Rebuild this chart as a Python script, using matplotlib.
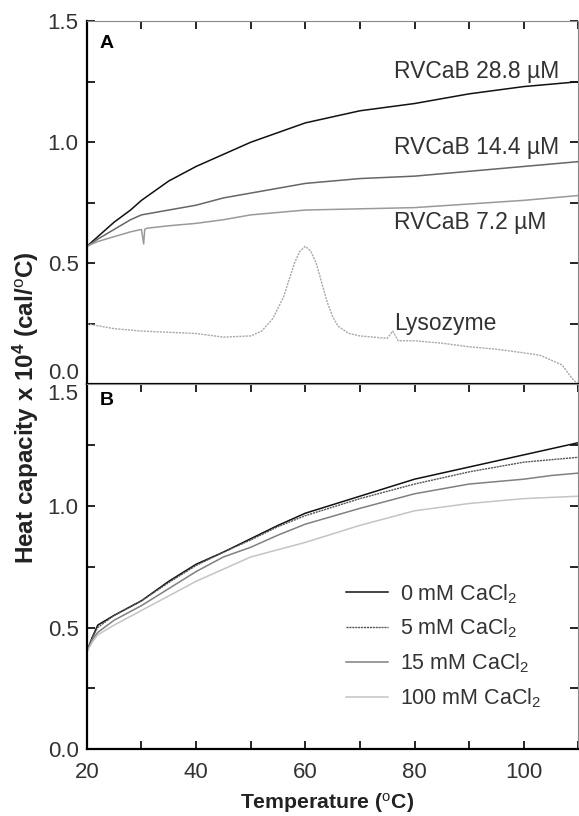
import matplotlib.pyplot as plt
import numpy as np
from matplotlib.ticker import MultipleLocator, FuncFormatter

plt.rcParams['font.family'] = ['Liberation Sans', 'DejaVu Sans']
plt.rcParams['mathtext.fontset'] = 'custom'
plt.rcParams['mathtext.rm'] = 'Liberation Sans'
plt.rcParams['mathtext.it'] = 'Liberation Sans:italic'
plt.rcParams['mathtext.bf'] = 'Liberation Sans:bold'

# Panel A: RVCaB concentrations and lysozyme
temp_a = [20, 22, 25, 28, 30, 35, 40, 45, 50, 55, 60, 70, 80, 90, 100, 105, 110]
cp_288 = [0.57, 0.61, 0.67, 0.72, 0.76, 0.84, 0.90, 0.95, 1.00, 1.04, 1.08, 1.13, 1.16, 1.20, 1.23, 1.24, 1.25]
cp_144 = [0.57, 0.60, 0.64, 0.68, 0.70, 0.72, 0.74, 0.77, 0.79, 0.81, 0.83, 0.85, 0.86, 0.88, 0.90, 0.91, 0.92]
temp_72 = [20, 22, 25, 28, 30, 30.4, 30.6, 31, 35, 40, 45, 50, 55, 60, 70, 80, 90, 100, 105, 110]
cp_72 = [0.57, 0.59, 0.61, 0.63, 0.64, 0.58, 0.64, 0.645, 0.655, 0.665, 0.68, 0.70, 0.71, 0.72, 0.725, 0.73, 0.745, 0.76, 0.77, 0.78]

temp_lyso = [20, 25, 30, 35, 40, 45, 50, 52, 54, 56, 57, 58, 59, 60, 61, 62, 63, 64, 65, 66, 68, 70, 75, 76, 77,
             80, 85, 90, 95, 100, 103, 105, 107, 108, 109, 110]
cp_lyso = [0.25, 0.23, 0.22, 0.215, 0.21, 0.195, 0.20, 0.22, 0.27, 0.36, 0.43, 0.50, 0.55, 0.57, 0.55, 0.50, 0.42,
           0.34, 0.28, 0.24, 0.21, 0.20, 0.19, 0.22, 0.18, 0.18, 0.17, 0.155, 0.145, 0.13, 0.12, 0.10, 0.08, 0.05, 0.02, 0.0]

# Panel B: CaCl2 concentrations
temp_b = [20, 21, 22, 25, 30, 35, 40, 45, 50, 55, 60, 70, 80, 90, 100, 105, 110]
cp_0 = [0.40, 0.46, 0.51, 0.55, 0.61, 0.69, 0.76, 0.81, 0.865, 0.92, 0.97, 1.04, 1.11, 1.16, 1.21, 1.235, 1.26]
cp_5 = [0.40, 0.46, 0.50, 0.55, 0.61, 0.685, 0.755, 0.81, 0.86, 0.915, 0.96, 1.03, 1.09, 1.14, 1.18, 1.19, 1.20]
cp_15 = [0.40, 0.45, 0.48, 0.53, 0.59, 0.66, 0.73, 0.79, 0.83, 0.88, 0.925, 0.99, 1.05, 1.09, 1.11, 1.125, 1.135]
cp_100 = [0.40, 0.44, 0.47, 0.51, 0.57, 0.63, 0.69, 0.74, 0.79, 0.82, 0.85, 0.92, 0.98, 1.01, 1.03, 1.035, 1.04]

fig = plt.figure(figsize=(5.79, 8.16), dpi=100)
ax1 = fig.add_axes([0.150, 0.529, 0.849, 0.445])
ax2 = fig.add_axes([0.150, 0.082, 0.849, 0.447])

ax1.plot(temp_a, cp_288, color='#111111', lw=1.1)
ax1.plot(temp_a, cp_144, color='#666666', lw=1.1)
ax1.plot(temp_72, cp_72, color='#9a9a9a', lw=1.1)
ax1.plot(temp_lyso, cp_lyso, color='#a8a8a8', lw=1.0, ls=(0, (1.5, 0.8)))

ax1.text(0.625, 0.862, 'RVCaB 28.8 \u00b5M', fontsize=16.5, color='#333333', transform=ax1.transAxes, va='center')
ax1.text(0.625, 0.651, 'RVCaB 14.4 \u00b5M', fontsize=16.5, color='#333333', transform=ax1.transAxes, va='center')
ax1.text(0.625, 0.447, 'RVCaB 7.2 \u00b5M', fontsize=16.5, color='#333333', transform=ax1.transAxes, va='center')
ax1.text(0.625, 0.168, 'Lysozyme', fontsize=16.5, color='#333333', transform=ax1.transAxes, va='center')
ax1.text(0.026, 0.94, 'A', fontsize=14, fontweight='bold', transform=ax1.transAxes, va='center')

ax2.plot(temp_b, cp_0, color='#111111', lw=1.1, label='0 mM CaCl$_2$')
ax2.plot(temp_b, cp_5, color='#555555', lw=1.0, ls=(0, (1.5, 0.6)), label='5 mM CaCl$_2$')
ax2.plot(temp_b, cp_15, color='#808080', lw=1.1, label='15 mM CaCl$_2$')
ax2.plot(temp_b, cp_100, color='#c4c4c4', lw=1.1, label='100 mM CaCl$_2$')
ax2.text(0.026, 0.955, 'B', fontsize=14, fontweight='bold', transform=ax2.transAxes, va='center')

leg = ax2.legend(loc='upper left', bbox_to_anchor=(0.528, 0.458), frameon=False, fontsize=15.5,
                 handlelength=1.95, labelspacing=0.52, handletextpad=0.56, borderpad=0, borderaxespad=0,
                 labelcolor='#333333')

for ax in (ax1, ax2):
    ax.set_xlim(20, 110)
    ax.set_ylim(0, 1.5)
    ax.xaxis.set_major_locator(MultipleLocator(10))
    ax.yaxis.set_major_locator(MultipleLocator(0.25))
    ax.yaxis.set_major_formatter(FuncFormatter(lambda v, p: f'{v:.1f}' if abs(v * 2 - round(v * 2)) < 1e-6 else ''))
    ax.tick_params(direction='in', length=6, width=1.2, top=True, right=True, labelsize=16,
                   labelcolor='#333333')
    ax.tick_params(axis='y', pad=6)
    ax.tick_params(axis='x', pad=9)
    ax.spines['left'].set_linewidth(1.6)
    ax.spines['bottom'].set_linewidth(1.6)
    ax.spines['top'].set_linewidth(0.8)
    ax.spines['right'].set_linewidth(0.8)
    ax.spines['top'].set_color('#888888')
    ax.spines['right'].set_color('#888888')

ax1.tick_params(bottom=False, labelbottom=False)
ax2.xaxis.set_major_formatter(FuncFormatter(lambda v, p: f'{v:.0f}' if int(round(v)) % 20 == 0 else ''))

# keep 0.0 of A and 1.5 of B from overlapping
fig.canvas.draw()
for lab in ax1.get_yticklabels():
    if lab.get_text() == '0.0':
        lab.set_va('bottom')
for lab in ax2.get_yticklabels():
    if lab.get_text() == '1.5':
        lab.set_va('top')

fig.text(0.565, 0.016, 'Temperature ($^{\\mathrm{o}}$C)', fontsize=15.3, fontweight='bold', color='#222222',
         ha='center', va='center')
fig.text(0.045, 0.50, 'Heat capacity x 10$^{\\mathbf{4}}$ (cal/$^{\\mathrm{o}}$C)', rotation=90, fontsize=17.5,
         fontweight='bold', color='#222222', ha='center', va='center')

plt.savefig('out.png', dpi=100)
